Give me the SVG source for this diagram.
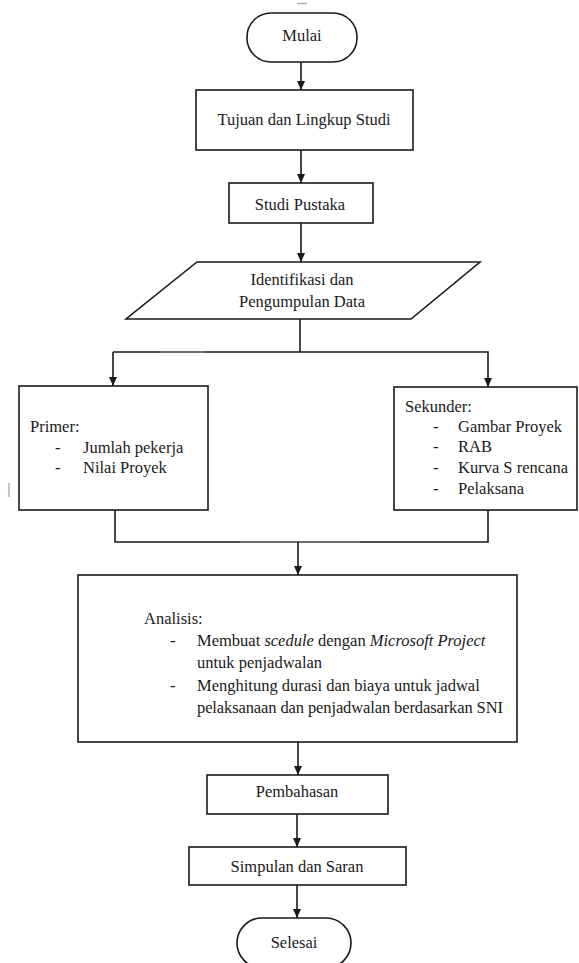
<svg xmlns="http://www.w3.org/2000/svg" width="579" height="963" viewBox="0 0 579 963">
<style>
.b{fill:#fff;stroke:#1a1a1a;stroke-width:1.6}
.t{font-family:'Liberation Serif','Times New Roman','DejaVu Serif',serif;font-size:16.5px;fill:#1a1a1a}
.c{text-anchor:middle}
.l{fill:none;stroke:#1a1a1a;stroke-width:1.6}
.g{stroke:#777}
.i{font-style:italic}
</style>
<defs>
<marker id="ah" markerWidth="10" markerHeight="10" refX="9" refY="5" orient="auto" markerUnits="userSpaceOnUse">
<path d="M0,1 L9,5 L0,9 Z" fill="#1a1a1a"/>
</marker>
</defs>
<rect width="579" height="963" fill="#fff"/>
<line x1="297" y1="3.5" x2="307" y2="3.5" stroke="#9fb3c8" stroke-width="1.5"/>
<rect x="8" y="483" width="2" height="14" fill="#b8c8d8"/>
<g id="connectors">
<line class="l" x1="301" y1="62" x2="301" y2="90" marker-end="url(#ah)"/>
<line class="l" x1="301" y1="150" x2="301" y2="183" marker-end="url(#ah)"/>
<line class="l" x1="301" y1="223" x2="301" y2="262" marker-end="url(#ah)"/>
<line class="l" x1="300" y1="319" x2="300" y2="352"/>
<polyline class="l" points="113,352 488,352 488,387" marker-end="url(#ah)"/>
<line class="l" x1="113" y1="352" x2="113" y2="386" marker-end="url(#ah)"/>
<line class="l g" x1="160" y1="352" x2="205" y2="352"/>
<polyline class="l" points="115,510 115,542 488,542 488,510"/>
<line class="l g" x1="240" y1="542" x2="360" y2="542"/>
<line class="l" x1="298" y1="542" x2="298" y2="575" marker-end="url(#ah)"/>
<line class="l" x1="298" y1="742" x2="298" y2="775" marker-end="url(#ah)"/>
<line class="l" x1="297" y1="814" x2="297" y2="847" marker-end="url(#ah)"/>
<line class="l" x1="297" y1="885" x2="297" y2="918" marker-end="url(#ah)"/>
</g>
<g id="mulai">
<rect class="b" x="247" y="13" width="110" height="49" rx="24" ry="24"/>
<text class="t c" x="302" y="41">Mulai</text>
</g>
<g id="tujuan">
<rect class="b" x="196" y="90" width="217" height="60"/>
<text class="t c" x="304" y="125">Tujuan dan Lingkup Studi</text>
</g>
<g id="studi">
<rect class="b" x="229" y="183" width="144" height="40"/>
<text class="t c" x="300" y="210">Studi Pustaka</text>
</g>
<g id="identifikasi">
<polygon class="b" points="197,262 480,262 411,319 126,319"/>
<text class="t c" x="302" y="285">Identifikasi dan</text>
<text class="t c" x="302" y="307">Pengumpulan Data</text>
</g>
<g id="primer">
<rect class="b" x="19" y="386" width="189" height="124"/>
<text class="t" x="30" y="432">Primer:</text>
<text class="t" x="55" y="453">-</text>
<text class="t" x="83" y="453">Jumlah pekerja</text>
<text class="t" x="55" y="473">-</text>
<text class="t" x="83" y="473">Nilai Proyek</text>
</g>
<g id="sekunder">
<rect class="b" x="394" y="387" width="183" height="123"/>
<text class="t" x="405" y="412">Sekunder:</text>
<text class="t" x="433" y="432">-</text>
<text class="t" x="458" y="432">Gambar Proyek</text>
<text class="t" x="433" y="452">-</text>
<text class="t" x="458" y="452">RAB</text>
<text class="t" x="433" y="473">-</text>
<text class="t" x="458" y="473">Kurva S rencana</text>
<text class="t" x="433" y="494">-</text>
<text class="t" x="458" y="494">Pelaksana</text>
</g>
<g id="analisis">
<rect class="b" x="78" y="575" width="439" height="167"/>
<text class="t" x="144" y="624">Analisis:</text>
<text class="t" x="170" y="646">-</text>
<text class="t" x="197" y="646">Membuat <tspan class="i">scedule</tspan> dengan <tspan class="i">Microsoft Project</tspan></text>
<text class="t" x="197" y="668">untuk penjadwalan</text>
<text class="t" x="170" y="691">-</text>
<text class="t" x="197" y="691">Menghitung durasi dan biaya untuk jadwal</text>
<text class="t" x="197" y="713" textLength="306">pelaksanaan  dan penjadwalan berdasarkan  SNI</text>
</g>
<g id="pembahasan">
<rect class="b" x="207" y="775" width="181" height="39"/>
<text class="t c" x="297" y="797">Pembahasan</text>
</g>
<g id="simpulan">
<rect class="b" x="189" y="847" width="217" height="38"/>
<text class="t c" x="297" y="872">Simpulan dan Saran</text>
</g>
<g id="selesai">
<rect class="b" x="237" y="918" width="114" height="50" rx="25" ry="25"/>
<text class="t c" x="294" y="948">Selesai</text>
</g>
</svg>
